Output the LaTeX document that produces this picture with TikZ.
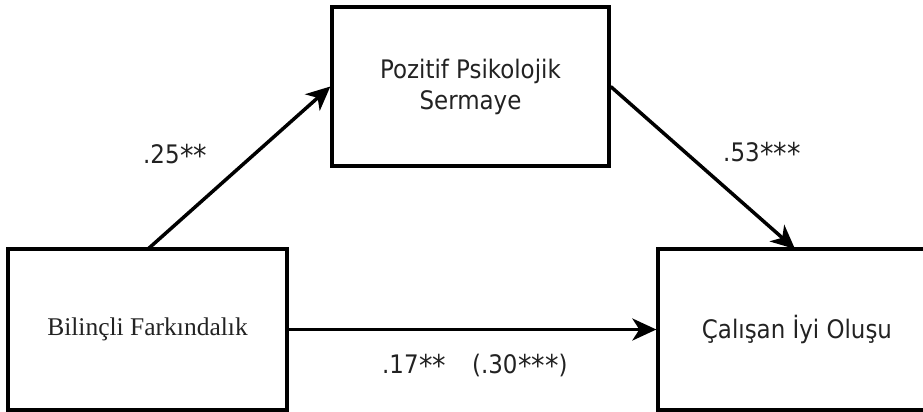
\documentclass[tikz,border=0pt]{standalone}
\usepackage{fontspec}
\setmainfont{DejaVu Sans Condensed}
\newfontfamily\serifbox{Liberation Serif}
\usetikzlibrary{arrows.meta}
\definecolor{txt}{HTML}{222222}
\newcommand{\stars}[1]{\raisebox{-3.5pt}{\fontsize{30}{31}\selectfont\kern0.5pt#1}}
\begin{document}
\begin{tikzpicture}[x=1pt,y=-1pt,
  box/.style={draw,line width=3.3pt,inner sep=0pt,align=center},
  conn/.style={line width=3.5pt,-{Stealth[length=24pt,width=22pt,inset=7pt]}},
  sanstxt/.style={font=\fontsize{25.5}{31}\selectfont,text=txt},
  lbl/.style={sanstxt,inner sep=0pt,anchor=base west}]
\useasboundingbox (0,0) rectangle (923,412);
\node[box,minimum width=279pt,minimum height=161pt,font=\serifbox\fontsize{25.5}{30}\selectfont,text=txt] (bf) at (147.5,329.5) {Bilinçli Farkındalık};
\node[box,sanstxt,minimum width=277pt,minimum height=159pt] (pps) at (470.5,86.5) {Pozitif Psikolojik\\Sermaye};
\node[box,sanstxt,minimum width=278pt,minimum height=161pt] (cio) at (797,329.5) {Çalışan İyi Oluşu};
\coordinate (a1s) at (148,249);
\coordinate (a2e) at (795,249);
\draw[conn] (a1s) -- (pps.west);
\draw[conn] (pps.east) -- (a2e);
\draw[conn] (bf.east) -- (cio.west);
\node[lbl] (l1) at (143,163) {.25\stars{**}};
\node[lbl] (l2) at (723,161) {.53\stars{***}};
\node[lbl] (l3) at (382,373) {.17\stars{**}\hspace{26pt}(.30\stars{***})};
\end{tikzpicture}
\end{document}
